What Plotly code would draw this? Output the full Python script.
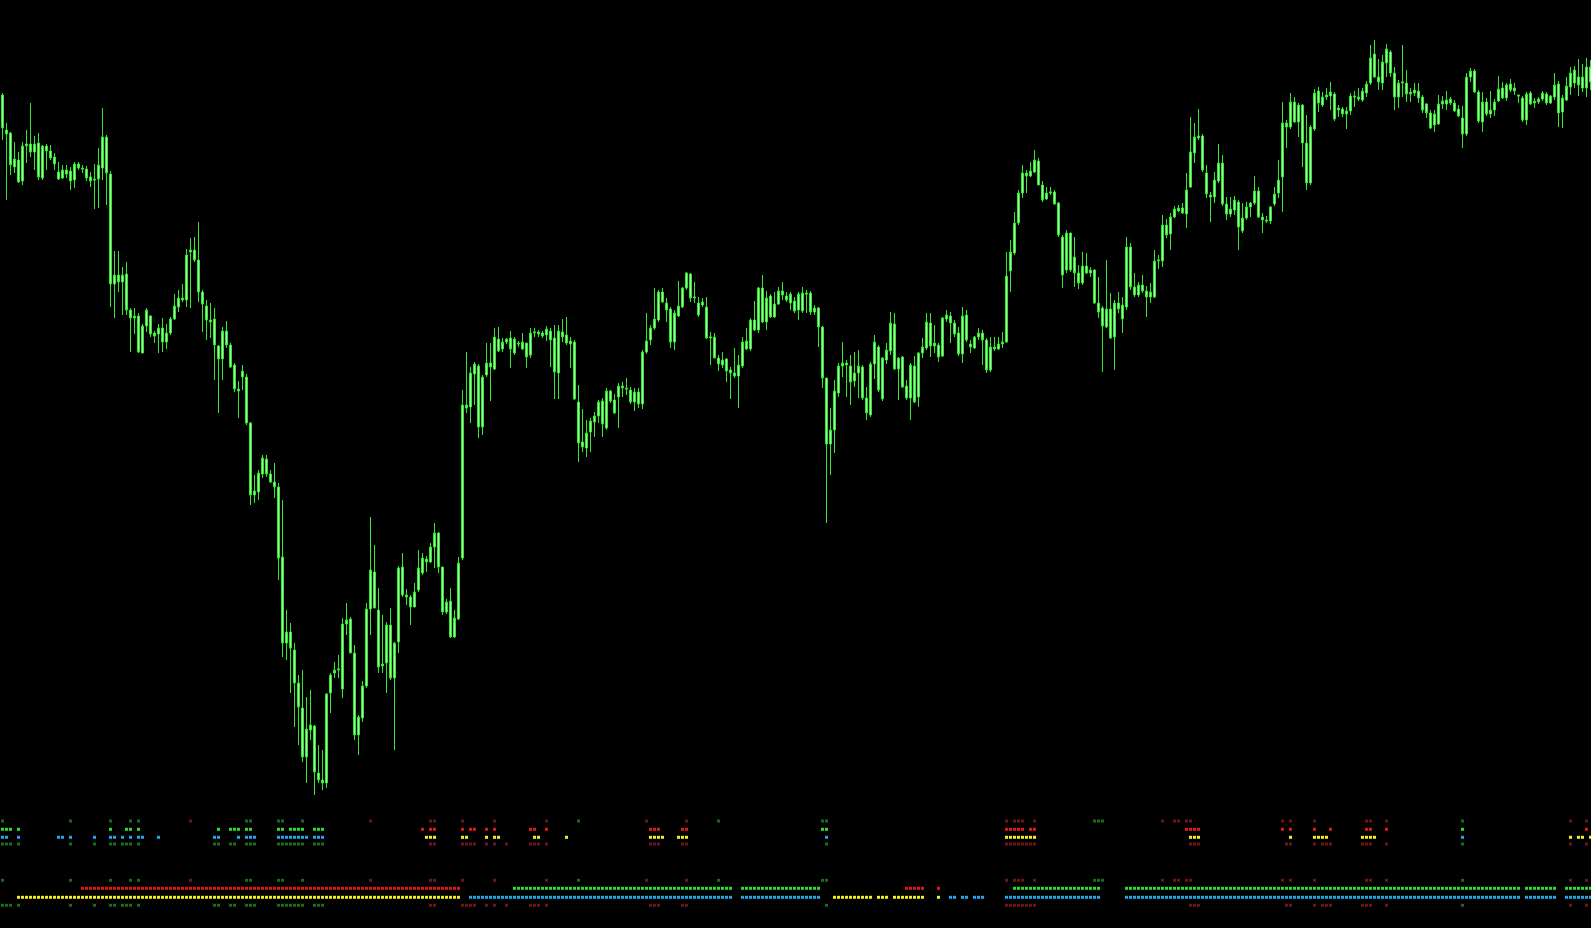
import plotly.graph_objects as go

# ---------------- price data (points) ----------------
OPEN = [905,870,867,833,840,819,854,856,848,857,822,854,849,843,828,822,830,829,820,836,
        832,831,823,821,821,832,863,826,716,725,718,726,690,682,684,647,674,684,667,666,
        672,658,667,681,693,702,700,748,750,740,708,694,680,681,654,641,669,655,635,611,
        623,623,577,505,508,526,541,526,518,513,443,357,368,350,317,292,243,270,274,227,
        220,217,307,327,330,311,376,381,347,265,282,314,391,428,390,334,337,375,322,358,
        433,405,403,393,410,427,441,438,453,467,433,388,399,363,381,442,595,593,626,634,
        573,625,637,631,661,651,658,662,647,657,651,657,645,667,668,667,665,669,662,627,
        668,665,659,658,598,558,552,568,578,584,599,572,609,600,603,614,612,610,598,608,
        596,648,660,672,680,708,697,691,658,684,693,712,726,702,697,695,693,662,663,642,
        635,641,630,627,624,634,651,651,680,670,712,678,704,683,696,709,704,697,699,690,
        689,707,707,688,692,673,622,556,570,607,634,637,634,619,627,633,602,585,636,653,
        601,640,649,676,631,643,614,602,634,603,647,652,677,654,655,644,681,684,677,667,
        646,685,656,652,663,667,660,630,653,651,656,658,729,747,777,807,827,824,828,839,
        815,801,807,808,797,763,730,767,743,727,717,734,727,730,697,692,673,691,663,697,
        681,693,753,713,705,715,709,703,703,739,739,775,766,783,789,792,786,813,847,862,
        864,827,805,803,819,837,796,786,790,798,769,782,793,797,809,783,780,779,796,807,
        823,877,873,898,878,895,857,817,871,909,895,903,904,906,890,891,886,889,904,903,
        900,907,917,946,923,917,937,948,927,903,917,917,906,907,909,903,896,887,875,876,
        896,896,901,897,891,882,866,923,929,908,878,898,886,890,899,912,902,916,909,905,
        902,880,907,897,898,901,906,897,903,916,888,900,913,917,923,912,912,918]
HIGH = [907,877,868,858,848,858,870,897,864,867,855,856,855,847,838,835,835,833,838,838,
        835,834,828,836,852,892,865,829,749,749,733,738,692,692,687,676,692,685,669,676,
        682,676,683,706,710,716,751,762,763,778,710,700,697,692,655,673,679,657,637,619,
        635,626,578,525,530,545,545,530,537,517,500,390,377,357,325,330,303,310,275,255,
        250,307,327,338,345,382,397,383,355,285,319,397,483,455,412,385,378,392,358,434,
        447,411,405,417,450,447,444,457,477,468,433,401,412,390,443,610,648,633,638,636,
        625,657,657,672,673,662,662,669,663,659,667,657,672,672,670,669,674,672,675,675,
        681,683,663,660,615,591,580,582,588,600,602,612,610,606,617,618,622,613,612,612,
        650,687,675,712,710,712,702,693,690,719,713,728,727,718,703,702,703,668,667,645,
        648,642,633,652,645,663,672,682,699,713,725,709,706,708,713,718,708,708,703,708,
        713,710,709,695,693,674,622,592,620,637,658,640,645,648,650,635,613,638,665,655,
        643,657,688,687,643,644,620,637,644,648,662,687,687,675,657,683,690,688,680,673,
        693,690,660,664,672,670,662,663,663,663,668,748,760,788,810,835,830,838,850,842,
        819,813,813,810,798,765,770,767,763,735,748,747,733,731,723,694,740,707,700,708,
        703,763,757,727,718,725,714,717,750,745,785,781,787,794,795,797,827,883,877,891,
        866,835,808,828,856,845,803,803,804,800,797,798,798,824,813,787,784,794,813,840,
        898,880,907,903,897,896,885,875,911,913,908,912,918,908,895,893,893,907,909,912,
        912,919,955,960,941,945,956,950,933,920,955,930,912,917,917,905,897,890,890,905,
        904,909,903,900,895,894,927,932,931,910,908,902,909,901,924,918,917,921,917,905,
        904,908,909,902,903,909,908,905,927,919,905,923,933,934,941,936,942,940]
LOW = [860,800,825,827,817,815,837,843,830,820,820,830,840,830,820,821,822,810,812,830,
       827,819,813,791,792,820,795,693,682,708,685,685,648,666,647,647,668,663,657,647,
       648,651,665,680,688,698,693,692,738,698,668,660,662,620,587,620,652,632,608,582,
       610,575,495,497,500,522,523,517,502,420,343,340,307,273,255,238,217,260,205,217,
       210,212,287,322,322,302,365,347,260,245,278,312,365,392,327,327,307,320,250,347,
       403,395,375,393,408,425,428,437,432,427,385,386,362,362,380,440,587,577,595,562,
       565,623,599,630,648,648,656,632,645,653,650,632,642,663,663,662,659,633,601,601,
       658,655,632,600,538,548,543,548,563,577,563,570,597,586,572,603,605,596,589,592,
       591,646,655,670,678,697,678,652,650,683,692,710,698,697,683,693,661,635,642,629,
       632,618,601,622,592,632,650,649,669,667,677,670,682,682,695,700,698,690,687,680,
       687,687,685,685,653,612,477,525,547,603,623,603,595,613,602,600,580,583,621,608,
       599,636,645,630,600,612,600,580,597,593,642,650,643,647,638,643,678,657,663,644,
       637,658,647,651,660,635,627,628,649,650,652,657,708,745,775,802,807,823,827,815,
       798,800,805,795,763,712,727,728,713,711,715,726,723,696,682,628,672,661,630,687,
       667,690,710,703,703,707,683,697,702,731,733,762,750,782,788,786,772,812,837,860,
       828,802,778,797,817,794,780,783,785,750,767,780,783,795,782,767,777,776,794,802,
       788,852,871,877,863,833,810,815,869,888,893,900,890,879,883,883,871,885,893,899,
       898,903,915,922,910,910,923,923,890,892,903,898,898,904,897,887,882,871,868,875,
       891,890,895,888,883,852,864,918,907,877,868,884,882,884,898,901,899,908,905,897,
       878,875,895,892,896,899,895,896,900,873,872,899,905,912,904,908,903,910]
CLOSE = [872,866,835,841,818,854,856,848,856,823,854,849,842,836,821,830,826,819,836,832,
         831,822,819,820,835,863,827,716,725,718,725,690,682,684,648,674,690,666,664,672,
         658,667,681,694,702,700,745,750,740,708,696,680,678,655,641,669,655,633,611,609,
         629,577,505,509,527,542,526,518,513,442,357,368,352,317,293,243,271,275,228,220,
         217,306,325,330,331,376,380,347,265,283,314,391,430,392,333,336,375,322,357,432,
         405,403,393,408,432,442,438,453,467,433,388,398,363,382,437,595,592,627,636,573,
         623,637,633,663,649,658,661,651,661,656,658,643,667,668,666,664,671,660,628,669,
         663,657,656,601,557,553,567,579,584,598,576,609,599,587,614,612,611,598,608,596,
         648,659,672,681,708,698,690,658,687,694,712,727,702,703,685,698,662,663,642,636,
         640,629,627,624,635,658,659,680,670,712,678,702,683,696,709,705,700,706,689,706,
         707,706,688,692,673,622,556,570,609,634,637,635,618,627,634,602,587,636,658,610,
         642,650,677,631,642,613,602,635,598,647,653,678,654,657,643,682,685,677,666,646,
         684,660,653,663,667,660,630,653,651,656,658,724,748,777,807,827,824,829,840,815,
         800,807,808,796,765,725,767,730,727,717,734,727,730,697,688,674,691,662,697,691,
         695,753,713,705,715,709,703,708,739,740,775,765,783,791,792,787,810,848,863,864,
         830,806,803,820,837,796,786,791,800,773,782,793,797,809,783,780,779,793,806,820,
         877,873,898,878,895,857,817,873,907,897,903,905,908,881,892,886,889,904,903,901,
         909,916,942,923,918,938,951,927,903,917,918,906,908,910,902,890,887,872,886,896,
         899,900,897,889,884,866,923,929,908,879,898,886,890,898,911,902,915,910,912,904,
         880,906,896,899,901,907,897,904,915,887,902,914,927,930,915,923,933,933]

# ---------------- indicator signals (bar indices) ----------------
SIG_A_GREEN = [0, 17, 27, 32, 34, 61, 62, 69, 70, 75, 144, 179, 205, 206, 273, 274, 275, 365]
SIG_A_RED = [47, 92, 107, 108, 115, 123, 136, 161, 171, 251, 253, 254, 255, 258, 290, 293, 294,
             296, 297, 320, 322, 328, 341, 342, 346, 392, 396]
SIG_B_GREEN = [0, 1, 2, 4, 27, 31, 32, 34, 54, 57, 58, 59, 61, 62, 69, 70, 72, 73, 74, 75, 78,
               79, 80, 205, 206, 365]
SIG_B_RED = [105, 107, 108, 115, 117, 118, 121, 123, 132, 133, 136, 162, 163, 164, 170, 171, 251,
             252, 253, 254, 255, 257, 258, 296, 297, 298, 299, 320, 322, 328, 332, 341, 342, 346, 396]
SIG_C_BLUE = [0, 1, 4, 14, 15, 17, 23, 27, 28, 30, 32, 34, 35, 39, 53, 54, 59, 61, 62, 63, 69, 70,
              71, 72, 73, 74, 75, 76, 78, 79, 80, 206, 365]
SIG_C_YELLOW = [106, 107, 108, 115, 116, 121, 123, 124, 133, 134, 141, 162, 163, 164, 165, 169, 170,
                171, 251, 252, 253, 254, 255, 256, 257, 258, 297, 298, 299, 322, 328, 329, 330, 331,
                340, 341, 342, 343, 392, 394, 395, 397]
SIG_D_GREEN = [0, 1, 2, 4, 17, 23, 27, 28, 30, 31, 32, 34, 53, 54, 57, 58, 61, 62, 63, 69, 70, 71,
               72, 73, 74, 75, 78, 79, 80, 206, 365]
SIG_D_RED = [107, 108, 115, 116, 117, 118, 121, 123, 126, 132, 133, 134, 136, 162, 163, 164, 170, 171,
             251, 252, 253, 254, 255, 256, 257, 258, 297, 298, 299, 321, 322, 328, 330, 331, 332, 340,
             341, 342, 346, 392, 396]
# trend rows: runs of bars (first, last)
TREND_F_RED = [(20, 114), (226, 230), (234, 234)]
TREND_F_GREEN = [(128, 182), (185, 204), (253, 274), (281, 379), (381, 388), (391, 397)]
TREND_G_YELLOW = [(4, 114), (208, 217), (219, 221), (223, 230), (234, 234)]
TREND_G_BLUE = [(117, 182), (185, 204), (237, 238), (240, 241), (243, 245), (251, 274),
                (281, 379), (381, 388), (391, 397)]

# ---------------- styling ----------------
W, H = 1591, 928
N = len(CLOSE)
BARS = list(range(N))
C_GREEN = "#2edb2e"
C_RED = "#e01818"
C_BLUE = "#1fa6e6"
C_YELLOW = "#eeee22"
C_DGREEN = "#1c6a1c"
C_DRED = "#6e1414"

ROW_Y = {"A": 21, "B": 29.3, "C": 37.3, "D": 44, "E": 80.3, "F": 88.3, "G": 97.3, "H": 105.3}


def expand(runs):
    out = []
    for a, b in runs:
        out.extend(range(a, b + 1))
    return out


fig = go.Figure()
fig.add_trace(go.Candlestick(
    x=BARS, open=OPEN, high=HIGH, low=LOW, close=CLOSE,
    increasing=dict(line=dict(color="#30e830", width=1), fillcolor="#a6ffa6"),
    decreasing=dict(line=dict(color="#30e830", width=1), fillcolor="#a6ffa6"),
    whiskerwidth=0, hoverinfo="skip", showlegend=False,
))


def dots(idx, row, color, size=3):
    fig.add_trace(go.Scatter(
        x=idx, y=[ROW_Y[row]] * len(idx), yaxis="y2", mode="markers",
        marker=dict(symbol="square", size=size, color=color, line=dict(width=0)),
        hoverinfo="skip", showlegend=False,
    ))


for r in ("A", "E"):
    dots(SIG_A_GREEN, r, C_DGREEN)
    dots(SIG_A_RED, r, C_DRED)
dots(SIG_B_GREEN, "B", C_GREEN)
dots(SIG_B_RED, "B", C_RED)
dots(SIG_C_BLUE, "C", C_BLUE)
dots(SIG_C_YELLOW, "C", C_YELLOW)
for r in ("D", "H"):
    dots(SIG_D_GREEN, r, C_DGREEN)
    dots(SIG_D_RED, r, C_DRED)
dots(expand(TREND_F_RED), "F", C_RED)
dots(expand(TREND_F_GREEN), "F", C_GREEN)
dots(expand(TREND_G_YELLOW), "G", C_YELLOW)
dots(expand(TREND_G_BLUE), "G", C_BLUE)

split = 1 - 800 / H
fig.update_layout(
    width=W, height=H, margin=dict(l=0, r=0, t=0, b=0),
    paper_bgcolor="#000000", plot_bgcolor="#000000",
    showlegend=False, hovermode=False,
    xaxis=dict(range=[-0.625, -0.625 + W / 4], visible=False, showgrid=False,
               zeroline=False, rangeslider=dict(visible=False), fixedrange=True),
    yaxis=dict(domain=[split, 1], range=[200, 1000], visible=False, showgrid=False,
               zeroline=False, fixedrange=True),
    yaxis2=dict(domain=[0, split], range=[128, 0], visible=False, showgrid=False,
                zeroline=False, anchor="x", fixedrange=True),
)

fig.write_html(
    "out.html",
    config={"displayModeBar": False},
    post_script="document.body.style.margin='0';document.body.style.background='#000';"
                "document.documentElement.style.background='#000';document.body.style.overflow='hidden';",
)
